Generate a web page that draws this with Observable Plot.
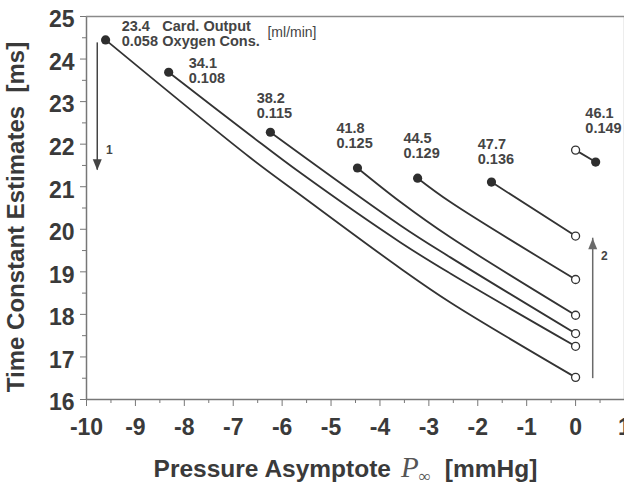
<!DOCTYPE html>
<html><head><meta charset="utf-8">
<script src="https://cdn.jsdelivr.net/npm/d3@7"></script>
<script src="https://cdn.jsdelivr.net/npm/@observablehq/plot@0.6"></script>
<style>html,body{margin:0;padding:0;background:#fff;overflow:hidden}</style>
</head><body><div id="chart"></div>
<script>
// ---- tick labels ----
const xTicks = [-10, -9, -8, -7, -6, -5, -4, -3, -2, -1, 0, 1];
const xMinor = [-9.5, -8.5, -7.5, -6.5, -5.5, -4.5, -3.5, -2.5, -1.5, -0.5, 0.5];
const yTicks = [16, 17, 18, 19, 20, 21, 22, 23, 24, 25];
const yMinor = [16.5, 17.5, 18.5, 19.5, 20.5, 21.5, 22.5, 23.5, 24.5];

// ---- series labels ----
const cardOutput = ["23.4", "34.1", "38.2", "41.8", "44.5", "47.7", "46.1"];
const oxygenCons = ["0.058", "0.108", "0.115", "0.125", "0.129", "0.136", "0.149"];

// ---- filled start points (left end of each curve) ----
const startX = [-9.61, -8.32, -6.24, -4.46, -3.23, -1.72, 0.41];
const startY = [24.45, 23.69, 22.28, 21.44, 21.20, 21.11, 21.58];
// ---- open end points at P = 0 ----
const endX = [0, 0, 0, 0, 0, 0, 0];
const endY = [16.52, 17.25, 17.55, 17.98, 18.82, 19.84, 21.86];

// ---- curves ----
const curve1X = [-9.61, -6.65, -5.62, -3.58, -2.56, 0];
const curve1Y = [24.45, 21.68, 20.80, 19.08, 18.28, 16.52];
const curve2X = [-8.32, -6.65, -5.62, -3.58, -2.56, 0];
const curve2Y = [23.69, 22.21, 21.32, 19.69, 18.96, 17.25];
const curve3X = [-6.24, -3.58, -2.56, 0];
const curve3Y = [22.28, 20.09, 19.34, 17.55];
const curve4X = [-4.46, -3.58, -2.56, 0];
const curve4Y = [21.44, 20.64, 19.81, 17.98];
const curve5X = [-3.23, -2.56, 0];
const curve5Y = [21.20, 20.64, 18.82];
const curve6X = [-1.72, 0];
const curve6Y = [21.11, 19.84];
const curve7X = [0, 0.41];
const curve7Y = [21.86, 21.58];

// ---- annotation anchors ----
const labelX = [-9.28, -7.91, -6.52, -4.89, -3.52, -2.00, 0.20];
const labelY = [24.60, 23.73, 22.91, 22.20, 21.96, 21.82, 22.55];
const headerX = -8.45, headerY = 24.60;
const unitX = -6.30, unitY = 24.62;

const arrowX = [-9.78, 0.35];
const arrowFrom = [24.38, 16.49];
const arrowTo = [21.39, 19.79];
const arrowLabel = ["1", "2"];
const arrowLabelX = [-9.60, 0.52];
const arrowLabelY = [21.86, 19.36];

// ---- build tables ----
const curveList = [[curve1X, curve1Y], [curve2X, curve2Y], [curve3X, curve3Y], [curve4X, curve4Y],
                   [curve5X, curve5Y], [curve6X, curve6Y], [curve7X, curve7Y]];
const lineData = curveList.flatMap(([xs, ys], k) => xs.map((x, j) => ({x, y: ys[j], k})));
const starts = startX.map((x, i) => ({x, y: startY[i], co: cardOutput[i], oc: oxygenCons[i], lx: labelX[i], ly: labelY[i]}));
const ends = endX.map((x, i) => ({x, y: endY[i]}));
const arrows = arrowX.map((x, i) => ({x, y1: arrowFrom[i], y2: arrowTo[i], t: arrowLabel[i], lx: arrowLabelX[i], ly: arrowLabelY[i], c: i === 0 ? "#444" : "#6a6a6a"}));

const chart = Plot.plot({
  width: 624, height: 484,
  marginLeft: 86, marginRight: 0, marginTop: 16, marginBottom: 85,
  style: {fontFamily: "'Liberation Sans', Arial, sans-serif", fontSize: "23px", fontWeight: "bold", color: "#3a3a3a", background: "#fff"},
  x: {domain: [-10, 1]},
  y: {domain: [16, 25]},
  marks: [
    Plot.axisY(yTicks, {tickSize: 6, tickPadding: 6, stroke: "#777", fill: "#3a3a3a", tickFormat: d => String(d),
      label: "Time Constant Estimates  [ms]", labelAnchor: "center", labelOffset: 80, labelArrow: "none"}),
    Plot.axisY(yMinor, {tickSize: 4, stroke: "#777", tickFormat: () => "", label: null}),
    Plot.axisX(xTicks, {tickSize: 7, tickPadding: 12, stroke: "#777", fill: "#3a3a3a", tickFormat: d => String(d),
      label: "Pressure Asymptote", labelAnchor: "center", labelOffset: 77, labelArrow: "none"}),
    Plot.axisX(xMinor, {tickSize: 4, stroke: "#777", tickFormat: () => "", label: null}),
    Plot.ruleY([16], {stroke: "#777", strokeWidth: 1.5}),
    Plot.ruleX([-10], {stroke: "#777", strokeWidth: 1.5}),
    Plot.ruleY([25], {stroke: "#8a8a8a", strokeWidth: 1.3}),
    Plot.ruleX([1], {stroke: "#8a8a8a", strokeWidth: 1.3}),
    Plot.line(lineData, {x: "x", y: "y", z: "k", curve: "catmull-rom", stroke: "#333", strokeWidth: 1.8}),
    Plot.dot(ends, {x: "x", y: "y", r: 4, stroke: "#333", fill: "white", strokeWidth: 1.3}),
    Plot.dot(starts, {x: "x", y: "y", r: 4.6, fill: "#2e2e2e", stroke: "none"}),
    Plot.text(starts, {x: "lx", y: "ly", text: d => `${d.co}\n${d.oc}`, textAnchor: "start", lineAnchor: "middle",
      lineHeight: 1.05, fontSize: 14.5, fontWeight: "bold", fill: "#444"}),
    Plot.text(["Card. Output\nOxygen Cons."], {x: headerX, y: headerY, text: d => d, textAnchor: "start", lineAnchor: "middle",
      lineHeight: 1.05, fontSize: 14.5, fontWeight: "bold", fill: "#444"}),
    Plot.text(["[ml/min]"], {x: unitX, y: unitY, text: d => d, textAnchor: "start", fontSize: 14, fontWeight: "normal", fill: "#444"}),
    Plot.ruleX(arrows, {x: "x", y1: "y1", y2: "y2", stroke: "c", strokeWidth: 1.5}),
    Plot.vector(arrows, {x: "x", y: "y2", length: 11, r: 4.5, shape: "spike", rotate: d => d.y2 < d.y1 ? 180 : 0, anchor: "end", fill: "c", stroke: "none"}),
    Plot.text(arrows, {x: "lx", y: "ly", text: "t", fontSize: 12, fontWeight: "bold", fill: "#444", textAnchor: "start"})
  ]
});

const ns = "http://www.w3.org/2000/svg";
// y-axis title: slightly larger and centred a bit lower, as in the reference
const ylab = chart.querySelector('[aria-label="y-axis label"] text');
if (ylab) { ylab.setAttribute("font-size", "24"); ylab.setAttribute("dx", "-9"); }
// y tick labels sit a little below their ticks
chart.querySelectorAll('[aria-label="y-axis tick label"] text').forEach(t => t.setAttribute("dy", "0.15em"));

// x-axis title with the italic P and subscript infinity
const lab = chart.querySelector('[aria-label="x-axis label"] text');
if (lab) {
  lab.textContent = "";
  lab.setAttribute("font-size", "24.5");
  const add = (txt, attrs) => { const t = document.createElementNS(ns, "tspan"); t.textContent = txt; for (const k in attrs) t.setAttribute(k, attrs[k]); lab.appendChild(t); return t; };
  add("Pressure Asymptote", {dx: "-10"});
  add("P", {dx: "10", "font-family": "'Liberation Serif', 'DejaVu Serif', serif", "font-style": "italic", "font-weight": "normal", "font-size": "29", fill: "#555"});
  add("\u221E", {dy: "5", "font-family": "'Liberation Serif', 'DejaVu Serif', serif", "font-weight": "normal", "font-size": "17", fill: "#555"});
  add("[mmHg]", {dx: "14", dy: "-5"});
}
document.getElementById("chart").appendChild(chart);
</script>
</body></html>
